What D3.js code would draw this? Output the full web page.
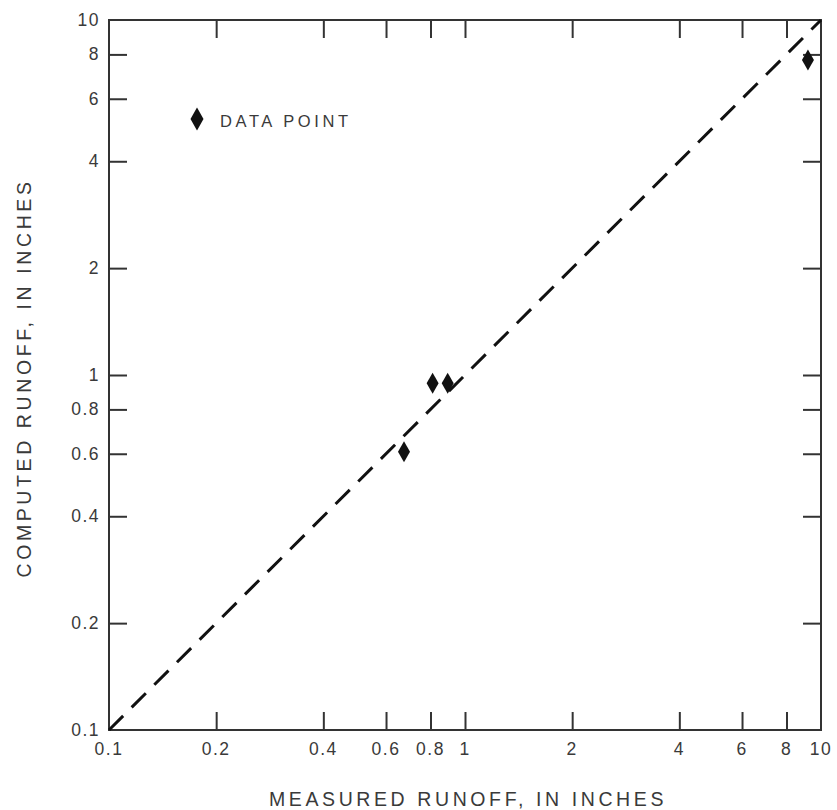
<!DOCTYPE html>
<html>
<head>
<meta charset="utf-8">
<script src="https://cdn.jsdelivr.net/npm/d3@7"></script>
<style>
  html, body { margin: 0; padding: 0; background: #fff; }
  svg { display: block; }
  text { font-family: "Liberation Sans", Arial, sans-serif; fill: #3a3a3a; }
</style>
</head>
<body>
<svg id="chart" width="837" height="810"></svg>
<script>
// Data
const measured = [0.674, 0.811, 0.894, 9.19];
const computed = [0.608, 0.948, 0.948, 7.71];
const xTicks = [0.1, 0.2, 0.4, 0.6, 0.8, 1, 2, 4, 6, 8, 10];
const yTicks = [0.1, 0.2, 0.4, 0.6, 0.8, 1, 2, 4, 6, 8, 10];
const tickLabels = ["0.1", "0.2", "0.4", "0.6", "0.8", "1", "2", "4", "6", "8", "10"];
const lineOfEquality = [0.1, 10];
const xTitle = "MEASURED RUNOFF, IN INCHES";
const yTitle = "COMPUTED RUNOFF, IN INCHES";
const legendLabel = "DATA POINT";

const svg = d3.select("#chart");
const L = 109, R = 821, T = 20, B = 730;
const x = d3.scaleLog().domain([0.1, 10]).range([L, R]);
const y = d3.scaleLog().domain([0.1, 10]).range([B, T]);
const ink = "#333";
const fmt = d => tickLabels[xTicks.indexOf(d)];

// Axes (ticks pointing inward on all sides)
const tl = 18;
const gB = svg.append("g").attr("transform", `translate(0,${B})`)
  .call(d3.axisTop(x).tickValues(xTicks).tickFormat("").tickSizeInner(tl).tickSizeOuter(0));
const gT = svg.append("g").attr("transform", `translate(0,${T})`)
  .call(d3.axisBottom(x).tickValues(xTicks).tickFormat("").tickSizeInner(tl).tickSizeOuter(0));
const gL = svg.append("g").attr("transform", `translate(${L},0)`)
  .call(d3.axisRight(y).tickValues(yTicks).tickFormat("").tickSizeInner(tl).tickSizeOuter(0));
const gR = svg.append("g").attr("transform", `translate(${R},0)`)
  .call(d3.axisLeft(y).tickValues(yTicks).tickFormat("").tickSizeInner(tl).tickSizeOuter(0));
[gB, gT, gL, gR].forEach(g => {
  g.selectAll("path.domain").remove();
  g.selectAll(".tick line").attr("stroke", ink).attr("stroke-width", 2);
  g.selectAll(".tick").filter(d => d === 0.1 || d === 10).remove();
});

// frame
svg.append("rect").attr("x", L).attr("y", T).attr("width", R - L).attr("height", B - T)
  .attr("fill", "none").attr("stroke", ink).attr("stroke-width", 2);

// tick labels
svg.append("g").selectAll("text").data(xTicks).join("text")
  .attr("x", d => x(d)).attr("y", 755)
  .attr("text-anchor", "middle").attr("font-size", 17.5).attr("letter-spacing", 1.5)
  .text(fmt);
svg.append("g").selectAll("text").data(yTicks).join("text")
  .attr("x", 100).attr("y", d => y(d) + 6)
  .attr("text-anchor", "end").attr("font-size", 17.5).attr("letter-spacing", 1.5)
  .text(fmt);

// line of equality
svg.append("line")
  .attr("x1", x(lineOfEquality[0])).attr("y1", y(lineOfEquality[0]))
  .attr("x2", x(lineOfEquality[1])).attr("y2", y(lineOfEquality[1]))
  .attr("stroke", "#111").attr("stroke-width", 3).attr("stroke-dasharray", "20,12");

// diamonds
const diamond = (cx, cy, w, h) => `M${cx},${cy - h / 2}L${cx + w / 2},${cy}L${cx},${cy + h / 2}L${cx - w / 2},${cy}Z`;
svg.append("g").selectAll("path").data(measured.map((m, i) => [m, computed[i]])).join("path")
  .attr("d", d => diamond(x(d[0]), y(d[1]), 12, 21))
  .attr("fill", "#111");

// legend
svg.append("path").attr("d", diamond(197, 119, 13, 23)).attr("fill", "#111");
svg.append("text").attr("x", 220).attr("y", 127).attr("font-size", 16.5)
  .attr("letter-spacing", 3.6).text(legendLabel);

// axis titles
svg.append("text").attr("x", (L + R) / 2 + 3).attr("y", 806)
  .attr("text-anchor", "middle").attr("font-size", 19.5).attr("letter-spacing", 3.6)
  .text(xTitle);
svg.append("text").attr("transform", `translate(31,${(T + B) / 2 + 3}) rotate(-90)`)
  .attr("text-anchor", "middle").attr("font-size", 19.5).attr("letter-spacing", 3.6)
  .text(yTitle);
</script>
</body>
</html>
